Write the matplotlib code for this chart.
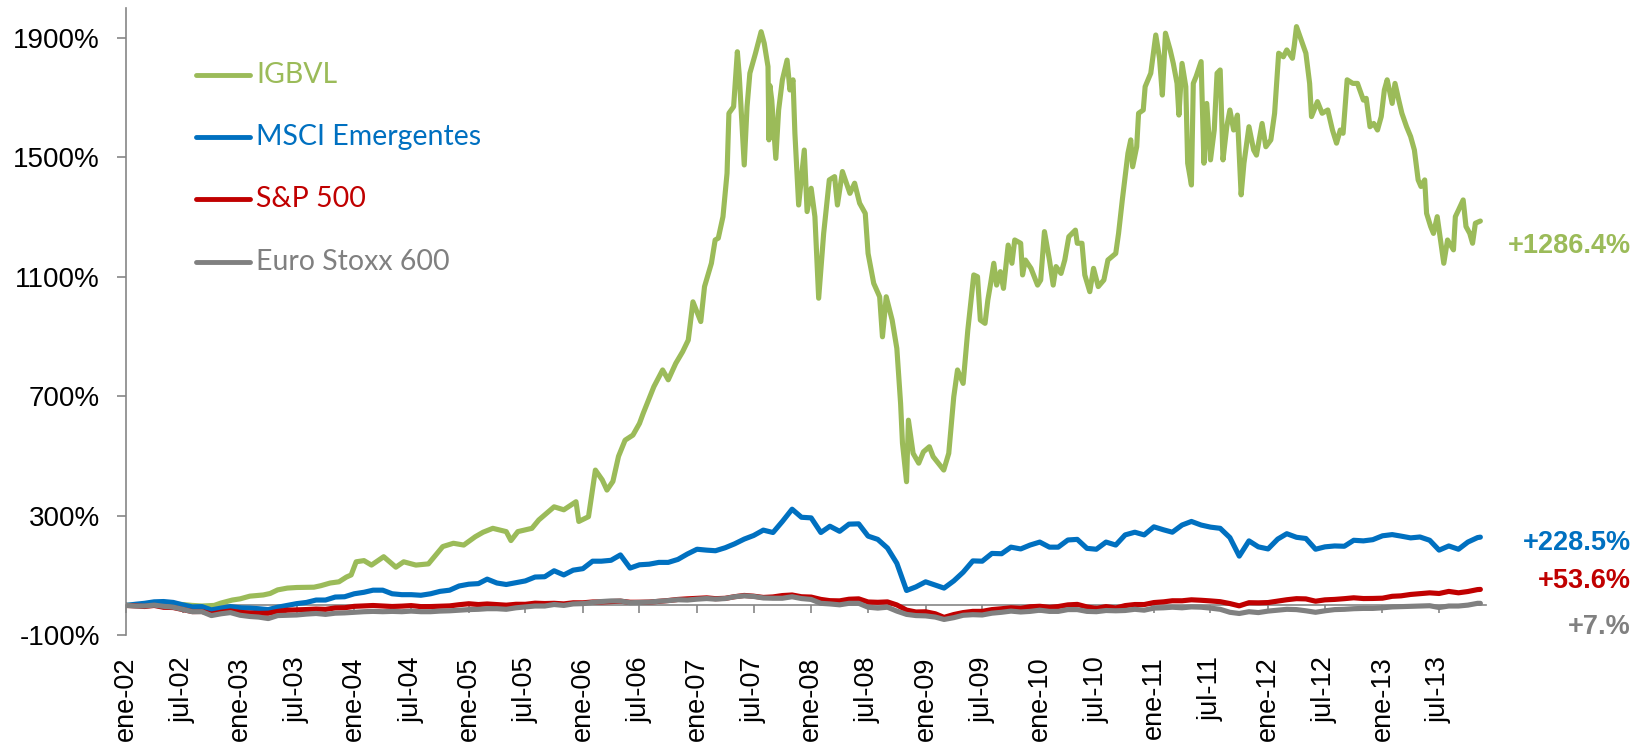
import matplotlib
matplotlib.use('Agg')
import matplotlib.pyplot as plt
import matplotlib.dates as mdates
from matplotlib.lines import Line2D
import pandas as pd

# ---- data (% change since 31-dic-2001) ----
# monthly points (first of each month ene-02 .. nov-13) plus the last day
month_dates = list(pd.date_range('2002-01-01', '2013-11-01', freq='MS')) + [pd.Timestamp('2013-11-10')]

msci = [0, 4, 7, 12, 13, 10, 2, -5, -4, -15, -9, -4,
        -8, -9, -11, -14, -6, 0, 6, 10, 18, 18, 28, 29,
        39, 44, 51, 51, 39, 36, 36, 34, 39, 47, 51, 65,
        71, 73, 88, 75, 70, 76, 82, 95, 96, 116, 102, 118,
        123, 148, 148, 151, 169, 125, 136, 138, 144, 144, 154, 172,
        188, 185, 183, 193, 206, 222, 234, 252, 244, 281, 322, 295,
        293, 244, 265, 248, 272, 273, 232, 221, 192, 141, 50, 62,
        79, 68, 58, 82, 111, 149, 148, 174, 173, 195, 189, 202,
        212, 195, 195, 219, 221, 191, 188, 212, 202, 236, 245, 236,
        263, 253, 245, 269, 281, 269, 262, 258, 227, 165, 216, 196,
        189, 222, 240, 228, 224, 188, 196, 199, 198, 218, 216, 220,
        233, 237, 232, 226, 229, 218, 185, 199, 188, 212, 227, 228.5]

sp500 = [0, -1.6, -3.6, -0.1, -6.2, -7.1, -13.8, -20.6, -20.2, -29.0, -22.8, -18.5,
         -23.3, -25.4, -26.7, -26.1, -20.1, -16.0, -15.1, -13.8, -12.2, -13.2, -8.4, -7.8,
         -3.1, -1.5, -0.3, -1.9, -3.6, -2.4, -0.6, -4.0, -3.8, -2.9, -1.6, 2.3,
         5.6, 2.9, 4.9, 2.9, 0.8, 3.8, 3.7, 7.5, 6.3, 7.1, 5.1, 8.8,
         8.7, 11.5, 11.6, 12.8, 14.2, 10.6, 10.6, 11.2, 13.6, 16.4, 20.0, 22.0,
         23.5, 25.3, 22.6, 23.8, 29.1, 33.4, 30.9, 26.7, 28.4, 33.0, 34.9, 29.0,
         27.9, 20.1, 15.9, 15.2, 20.7, 22.0, 11.5, 10.4, 11.8, 1.6, -15.6, -22.0,
         -21.3, -28.0, -40.0, -30.5, -24.0, -19.9, -19.9, -14.0, -11.1, -7.9, -9.8, -4.5,
         -2.9, -6.4, -3.8, 1.8, 3.4, -5.1, -10.2, -4.0, -8.6, -0.6, 3.0, 2.9,
         9.6, 12.0, 15.6, 15.5, 18.8, 17.2, 15.1, 12.5, 6.2, -1.5, 9.1, 8.6,
         9.6, 14.3, 19.0, 22.6, 21.8, 14.1, 18.6, 20.1, 22.6, 25.5, 23.0, 23.3,
         24.2, 30.5, 32.0, 36.7, 39.2, 42.1, 39.9, 46.9, 42.2, 46.5, 53.0, 53.6]

stoxx = [0, -2, -2, 1, -3, -6, -13, -21, -21, -34, -28, -24,
         -33, -37, -39, -44, -34, -33, -32, -29, -27, -30, -26, -25,
         -23, -21, -20, -21, -20, -21, -19, -21, -21, -19, -18, -16,
         -14, -13, -11, -11, -13, -8, -5, -2, -2, 3, 0, 5,
         6, 10, 13, 15, 15, 9, 10, 11, 14, 16, 19, 18,
         21, 23, 21, 23, 29, 32, 30, 25, 24, 24, 29, 23,
         20, 7, 5, 2, 7, 7, -6, -9, -6, -19, -30, -34,
         -35, -39, -47, -41, -33, -31, -32, -26, -23, -19, -22, -20,
         -16, -20, -20, -14, -14, -20, -21, -17, -18, -17, -13, -16,
         -9, -8, -6, -8, -5, -6, -9, -13, -23, -27, -21, -24,
         -19, -16, -13, -14, -18, -23, -18, -14, -13, -11, -10, -10,
         -8, -5, -4, -3, -2, -1, -7, -2, -2, 1, 7, 7.0]

igbvl_dates = [
    '2002-01-01', '2002-03-01', '2002-05-01', '2002-07-01', '2002-08-01', '2002-09-01',
    '2002-10-10', '2002-11-01', '2002-12-07', '2003-01-01', '2003-02-01', '2003-03-16',
    '2003-04-07', '2003-05-01', '2003-06-01', '2003-07-01', '2003-08-25', '2003-09-16',
    '2003-10-16', '2003-11-13', '2003-12-07', '2003-12-22', '2004-01-07', '2004-02-01',
    '2004-02-25', '2004-04-04', '2004-05-13', '2004-06-07', '2004-07-16', '2004-08-25',
    '2004-10-10', '2004-11-13', '2004-12-16', '2005-01-22', '2005-02-16', '2005-03-19',
    '2005-05-01', '2005-05-16', '2005-06-07', '2005-07-22', '2005-08-13', '2005-10-01',
    '2005-11-01', '2005-12-10', '2005-12-19', '2006-01-19', '2006-02-10', '2006-03-04',
    '2006-03-19', '2006-04-07', '2006-04-25', '2006-05-16', '2006-06-10', '2006-07-01',
    '2006-07-13', '2006-08-16', '2006-09-13', '2006-10-01', '2006-10-25', '2006-11-16',
    '2006-12-04', '2006-12-19', '2007-01-13', '2007-01-25', '2007-02-16', '2007-02-28',
    '2007-03-10', '2007-03-25', '2007-04-07', '2007-04-13', '2007-04-28', '2007-05-10',
    '2007-05-16', '2007-06-01', '2007-06-10', '2007-06-19', '2007-07-07', '2007-07-25',
    '2007-08-04', '2007-08-16', '2007-08-19', '2007-08-22', '2007-08-28', '2007-09-10',
    '2007-09-19', '2007-10-01', '2007-10-16', '2007-10-25', '2007-11-04', '2007-11-10',
    '2007-11-22', '2007-12-10', '2007-12-19', '2008-01-01', '2008-01-13', '2008-01-25',
    '2008-02-10', '2008-02-28', '2008-03-16', '2008-03-25', '2008-04-10', '2008-05-04',
    '2008-05-19', '2008-06-04', '2008-06-22', '2008-07-01', '2008-07-19', '2008-08-07',
    '2008-08-16', '2008-08-28', '2008-09-16', '2008-10-01', '2008-10-13', '2008-10-19',
    '2008-11-01', '2008-11-07', '2008-11-22', '2008-12-10', '2008-12-25', '2009-01-13',
    '2009-01-25', '2009-02-28', '2009-03-16', '2009-04-01', '2009-04-13', '2009-05-01',
    '2009-05-16', '2009-06-04', '2009-06-16', '2009-06-25', '2009-07-10', '2009-07-19',
    '2009-07-28', '2009-08-07', '2009-08-16', '2009-08-28', '2009-09-07', '2009-09-22',
    '2009-10-04', '2009-10-13', '2009-11-01', '2009-11-07', '2009-11-16', '2009-12-04',
    '2009-12-25', '2010-01-04', '2010-01-16', '2010-02-01', '2010-02-13', '2010-02-22',
    '2010-03-10', '2010-03-22', '2010-04-04', '2010-04-25', '2010-05-01', '2010-05-16',
    '2010-05-25', '2010-06-10', '2010-06-22', '2010-07-07', '2010-07-25', '2010-08-07',
    '2010-09-01', '2010-09-10', '2010-09-22', '2010-10-10', '2010-10-19', '2010-10-25',
    '2010-11-07', '2010-11-13', '2010-11-28', '2010-12-04', '2010-12-22', '2011-01-07',
    '2011-01-19', '2011-01-28', '2011-02-07', '2011-02-22', '2011-03-04', '2011-03-16',
    '2011-03-22', '2011-04-01', '2011-04-13', '2011-04-19', '2011-05-01', '2011-05-07',
    '2011-05-16', '2011-06-01', '2011-06-10', '2011-06-19', '2011-07-01', '2011-07-13',
    '2011-07-22', '2011-08-01', '2011-08-10', '2011-08-22', '2011-09-01', '2011-09-13',
    '2011-09-25', '2011-10-07', '2011-10-16', '2011-11-01', '2011-11-16', '2011-11-25',
    '2011-12-13', '2011-12-25', '2012-01-10', '2012-01-22', '2012-02-04', '2012-02-19',
    '2012-03-01', '2012-03-19', '2012-03-25', '2012-04-01', '2012-04-16', '2012-05-01',
    '2012-05-13', '2012-05-19', '2012-06-07', '2012-06-22', '2012-07-10', '2012-07-25',
    '2012-08-07', '2012-08-19', '2012-08-28', '2012-09-10', '2012-09-28', '2012-10-13',
    '2012-11-01', '2012-11-10', '2012-11-22', '2012-12-04', '2012-12-16', '2012-12-28',
    '2013-01-07', '2013-01-16', '2013-02-01', '2013-02-10', '2013-02-22', '2013-03-04',
    '2013-03-19', '2013-04-01', '2013-04-13', '2013-04-25', '2013-05-04', '2013-05-16',
    '2013-05-22', '2013-06-04', '2013-06-13', '2013-06-25', '2013-07-07', '2013-07-16',
    '2013-07-28', '2013-08-16', '2013-08-22', '2013-09-01', '2013-09-16', '2013-09-25',
    '2013-10-07', '2013-10-16', '2013-10-25', '2013-11-10']

igbvl = [
    0, 3, 6, 3, 0, -2,
    0, 8, 18, 22, 31, 35,
    40, 52, 58, 60, 61, 66,
    75, 79, 95, 102, 146, 150,
    135, 163, 128, 146, 135, 139,
    197, 208, 202, 230, 245, 258,
    247, 217, 247, 258, 286, 330,
    320, 347, 281, 297, 453, 420,
    386, 415, 499, 553, 570, 609,
    643, 732, 788, 755, 810, 849,
    888, 1016, 950, 1067, 1145, 1223,
    1229, 1301, 1446, 1647, 1669, 1853,
    1775, 1474, 1669, 1781, 1848, 1920,
    1881, 1803, 1558, 1740, 1691, 1496,
    1658, 1759, 1825, 1725, 1759, 1580,
    1340, 1524, 1318, 1396, 1301, 1028,
    1245, 1424, 1435, 1340, 1452, 1379,
    1413, 1346, 1312, 1178, 1078, 1033,
    899, 1033, 955, 860, 676, 543,
    414, 620, 509, 476, 514, 531,
    498, 453, 509, 698, 788, 743,
    922, 1106, 1100, 955, 944, 1022,
    1078, 1145, 1072, 1117, 1061, 1206,
    1145, 1223, 1212, 1106, 1156, 1128,
    1072, 1089, 1251, 1156, 1072, 1134,
    1111, 1156, 1234, 1256, 1212, 1212,
    1106, 1050, 1128, 1067, 1089, 1156,
    1178, 1245, 1357, 1513, 1558, 1468,
    1535, 1647, 1658, 1736, 1781, 1909,
    1831, 1708, 1915, 1859, 1814, 1747,
    1641, 1814, 1736, 1480, 1407, 1747,
    1770, 1820, 1480, 1680, 1491, 1591,
    1781, 1792, 1491, 1602, 1658, 1591,
    1641, 1374, 1480, 1602, 1524, 1507,
    1613, 1535, 1558, 1647, 1848, 1836,
    1859, 1831, 1875, 1937, 1892, 1848,
    1747, 1636, 1686, 1647, 1658, 1591,
    1547, 1591, 1580, 1759, 1747, 1747,
    1691, 1697, 1602, 1613, 1591, 1636,
    1725, 1759, 1680, 1747, 1691, 1647,
    1602, 1569, 1524, 1424, 1402, 1424,
    1312, 1268, 1245, 1301, 1212, 1145,
    1223, 1190, 1301, 1323, 1357, 1268,
    1245, 1212, 1279, 1286.4]

names = ['IGBVL', 'MSCI Emergentes', 'S&P 500', 'Euro Stoxx 600']
colors = ['#9BBB59', '#0070C0', '#C00000', '#808080']
end_labels = ['+1286.4%', '+228.5%', '+53.6%', '+7.%']

yticks = [-100, 300, 700, 1100, 1500, 1900]
ytick_labels = ['-100%', '300%', '700%', '1100%', '1500%', '1900%']
xtick_labels = ['ene-02', 'jul-02', 'ene-03', 'jul-03', 'ene-04', 'jul-04',
                'ene-05', 'jul-05', 'ene-06', 'jul-06', 'ene-07', 'jul-07',
                'ene-08', 'jul-08', 'ene-09', 'jul-09', 'ene-10', 'jul-10',
                'ene-11', 'jul-11', 'ene-12', 'jul-12', 'ene-13', 'jul-13']
xtick_dates = pd.date_range('2002-01-01', periods=len(xtick_labels), freq='6MS')

W, H = 1635, 745
axis_grey = '#868686'
plt.rcParams['font.family'] = ['Liberation Sans', 'DejaVu Sans']

fig = plt.figure(figsize=(W / 100, H / 100), dpi=100)
ax = fig.add_axes([126 / W, (H - 635.3) / H, 1360 / W, (635.3 - 7.8) / H])

series = [(pd.to_datetime(igbvl_dates), igbvl),
          (month_dates, msci),
          (month_dates, sp500),
          (month_dates, stoxx)]
for (d, v), c in zip(series, colors):
    ax.plot(d, v, color=c, lw=3.7, solid_joinstyle='round', solid_capstyle='round', zorder=3)

ax.set_xlim(pd.Timestamp('2002-01-01'), pd.Timestamp('2013-11-28'))
ax.set_ylim(-100, 2000)

# y axis
ax.set_yticks(yticks)
ax.set_yticklabels(ytick_labels)
ax.tick_params(axis='y', length=6.2, width=1.2, color=axis_grey, pad=12.5, labelsize=20)
ax.spines['left'].set_color(axis_grey)
ax.spines['left'].set_linewidth(1.2)
for s in ['top', 'right']:
    ax.spines[s].set_visible(False)

# horizontal axis line sits on 0%, labels stay at the bottom
ax.spines['bottom'].set_position(('data', 0))
ax.spines['bottom'].set_color(axis_grey)
ax.spines['bottom'].set_linewidth(1.2)
ax.spines['bottom'].set_zorder(1)
ax.set_xticks(xtick_dates)
ax.tick_params(axis='x', direction='out', length=5.5, width=1.2, color=axis_grey, labelbottom=False)

sec = ax.secondary_xaxis('bottom')
sec.set_xticks(mdates.date2num(xtick_dates))
sec.set_xticklabels(xtick_labels, rotation=90)
sec.tick_params(axis='x', length=0, pad=15, labelsize=19.5)
sec.spines['bottom'].set_visible(False)

# legend drawn as coloured text with short lines
leg_rows = [75, 136.7, 199.3, 261.7]
for name, c, yp in zip(names, colors, leg_rows):
    fig.add_artist(Line2D([196 / W, 250 / W], [1 - yp / H, 1 - yp / H], color=c, lw=3.5,
                          solid_capstyle='round', transform=fig.transFigure))
    fig.text(256 / W, 1 - yp / H, name, color=c, fontsize=20.5, family=['Lato', 'DejaVu Sans'],
             va='center', ha='left')

# end-of-period labels
end_rows = [246.5, 543.5, 580.5, 626.5]
for lab, c, yp in zip(end_labels, colors, end_rows):
    fig.text(1631 / W, 1 - yp / H, lab, color=c, fontsize=19.5, fontweight='bold',
             va='center', ha='right')

fig.savefig('out.png', dpi=100)
